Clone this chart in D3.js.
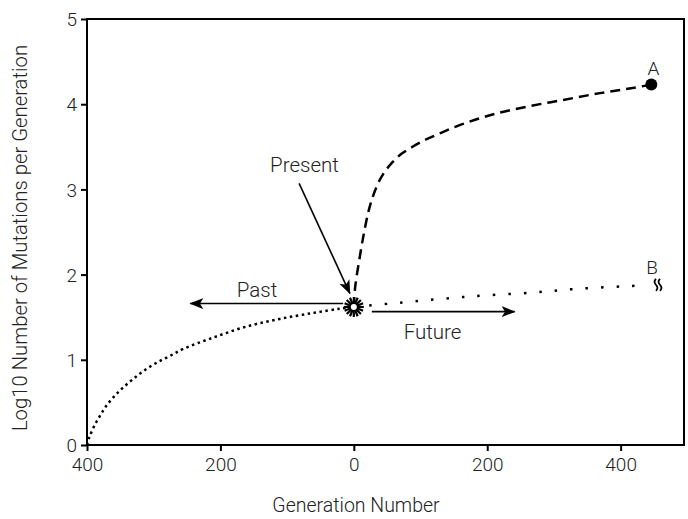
<!DOCTYPE html>
<html>
<head>
<meta charset="utf-8">
<script src="https://cdn.jsdelivr.net/npm/d3@7"></script>
<style>
  body { margin: 0; background: #fff; }
  text { font-family: Roboto, "Noto Sans", sans-serif; font-weight: 300; fill: #222; }
</style>
</head>
<body>
<div id="chart"></div>
<script>
// past curve (generations before present are negative)
var pastGen = [-400, -397, -390, -380, -370, -357, -345, -330, -315, -297, -277, -255, -211, -161, -111, -61, -21, 0];
var pastVal = [0, 0.08, 0.21, 0.35, 0.47, 0.59, 0.68, 0.78, 0.87, 0.96, 1.04, 1.13, 1.26, 1.39, 1.48, 1.55, 1.60, 1.62];

// future scenario A (dashed)
var aGen = [0, 2, 9, 16, 24, 34, 44, 58, 72, 88, 104, 124, 154, 204, 259, 314, 369, 418, 446];
var aVal = [1.62, 1.85, 2.21, 2.52, 2.80, 3.03, 3.18, 3.32, 3.42, 3.50, 3.57, 3.64, 3.74, 3.87, 3.97, 4.05, 4.13, 4.19, 4.23];

// future scenario B (dotted)
var bGen = [0, 69, 169, 269, 329, 424, 456];
var bVal = [1.62, 1.67, 1.74, 1.79, 1.83, 1.87, 1.88];

var xTicks = [-400, -200, 0, 200, 400];
var yTicks = [0, 1, 2, 3, 4, 5];

var width = 688, height = 519;
var margin = { top: 19, right: 4, bottom: 74, left: 87 };

var x = d3.scaleLinear().domain([-400, 495]).range([margin.left, width - margin.right]),
    y = d3.scaleLinear().domain([0, 5]).range([height - margin.bottom, margin.top]);

var svg = d3.select("#chart").append("svg")
    .attr("width", width)
    .attr("height", height);

var defs = svg.append("defs");
defs.append("marker")
    .attr("id", "head")
    .attr("viewBox", "0 -6 14 12")
    .attr("refX", 13)
    .attr("refY", 0)
    .attr("markerWidth", 14)
    .attr("markerHeight", 12)
    .attr("markerUnits", "userSpaceOnUse")
    .attr("orient", "auto")
    .append("path")
    .attr("d", "M0,-5.5L14,0L0,5.5L3.5,0Z")
    .attr("fill", "#000");

// frame
svg.append("rect")
    .attr("x", x.range()[0])
    .attr("y", y.range()[1])
    .attr("width", x.range()[1] - x.range()[0])
    .attr("height", y.range()[0] - y.range()[1])
    .attr("fill", "none")
    .attr("stroke", "#000")
    .attr("stroke-width", 2);

var xAxis = svg.append("g")
    .attr("transform", "translate(0," + y(0) + ")")
    .call(d3.axisBottom(x).tickValues(xTicks).tickSize(6).tickSizeOuter(0)
        .tickFormat(function (d) { return Math.abs(d); }));

var yAxis = svg.append("g")
    .attr("transform", "translate(" + x(-400) + ",0)")
    .call(d3.axisLeft(y).tickValues(yTicks).tickSize(6).tickSizeOuter(0).tickPadding(4)
        .tickFormat(d3.format("d")));

[xAxis, yAxis].forEach(function (g) {
    g.select(".domain").remove();
    g.selectAll(".tick line").attr("stroke", "#000").attr("stroke-width", 2);
    g.selectAll(".tick text")
        .style("font-family", "Roboto, sans-serif")
        .style("font-weight", 300)
        .style("font-size", "19px")
        .attr("fill", "#222");
});
xAxis.selectAll(".tick text").attr("dy", "0.95em").attr("y", 8);
yAxis.selectAll(".tick text").attr("dy", "0.35em");

svg.append("text")
    .attr("x", 356)
    .attr("y", 512)
    .attr("text-anchor", "middle")
    .style("font-size", "19.5px")
    .text("Generation Number");

svg.append("text")
    .attr("transform", "translate(27,238)rotate(-90)")
    .attr("text-anchor", "middle")
    .style("font-size", "20.3px")
    .text("Log10 Number of Mutations per Generation");

function series(gen, val) {
    return gen.map(function (g, i) { return [g, val[i]]; });
}

var line = d3.line()
    .x(function (d) { return x(d[0]); })
    .y(function (d) { return y(d[1]); })
    .curve(d3.curveCatmullRom);

svg.append("path")
    .datum(series(pastGen, pastVal))
    .attr("d", line)
    .attr("fill", "none")
    .attr("stroke", "#000")
    .attr("stroke-width", 2.5)
    .attr("stroke-dasharray", "2.5,3.5");

svg.append("path")
    .datum(series(aGen, aVal))
    .attr("d", line)
    .attr("fill", "none")
    .attr("stroke", "#000")
    .attr("stroke-width", 2.5)
    .attr("stroke-dasharray", "10,6");

svg.append("path")
    .datum(series(bGen, bVal).slice(0, -1))
    .attr("d", line)
    .attr("fill", "none")
    .attr("stroke", "#000")
    .attr("stroke-width", 2.5)
    .attr("stroke-dasharray", "2.5,13");

// end point A
var aEnd = [aGen[aGen.length - 1], aVal[aVal.length - 1]];
svg.append("circle")
    .attr("cx", x(aEnd[0]))
    .attr("cy", y(aEnd[1]))
    .attr("r", 6)
    .attr("fill", "#000");
svg.append("text")
    .attr("x", x(aEnd[0]) + 2)
    .attr("y", y(aEnd[1]) - 10)
    .attr("text-anchor", "middle")
    .style("font-size", "19px")
    .text("A");

// end point B: wavy break symbol
var bEnd = [bGen[bGen.length - 1], bVal[bVal.length - 1]];
var bx = x(bEnd[0]), by = y(bEnd[1]);
[-2, 2].forEach(function (dx) {
    svg.append("path")
        .attr("d", "M" + (bx + dx) + "," + (by - 6) +
            "q-3,3 0,6 q3,3 0,6")
        .attr("fill", "none")
        .attr("stroke", "#000")
        .attr("stroke-width", 1.8);
});
svg.append("text")
    .attr("x", bx - 6)
    .attr("y", by - 11)
    .attr("text-anchor", "middle")
    .style("font-size", "19px")
    .text("B");

// present marker (sunburst)
var px = x(0), py = y(1.62);
var star = svg.append("g").attr("transform", "translate(" + px + "," + py + ")");
d3.range(16).forEach(function (i) {
    var a = i * Math.PI / 8;
    star.append("line")
        .attr("x1", 0).attr("y1", 0)
        .attr("x2", 10 * Math.cos(a)).attr("y2", 10 * Math.sin(a))
        .attr("stroke", "#000")
        .attr("stroke-width", 2.2);
});
star.append("circle").attr("r", 3).attr("fill", "#fff");

// annotations
var arrows = [
    { from: [-16, 1.66], to: [-245, 1.66], label: "Past", at: [-145, 1.74] },
    { from: [27, 1.565], to: [241, 1.565], label: "Future", at: [118, 1.24] },
    { from: [-82, 3.07], to: [-6, 1.78], label: "Present", at: [-74, 3.21] }
];

arrows.forEach(function (d) {
    svg.append("line")
        .attr("x1", x(d.from[0])).attr("y1", y(d.from[1]))
        .attr("x2", x(d.to[0])).attr("y2", y(d.to[1]))
        .attr("stroke", "#000")
        .attr("stroke-width", 1.6)
        .attr("marker-end", "url(#head)");
    svg.append("text")
        .attr("x", x(d.at[0]))
        .attr("y", y(d.at[1]))
        .attr("text-anchor", "middle")
        .style("font-size", "20.5px")
        .text(d.label);
});
</script>
</body>
</html>
